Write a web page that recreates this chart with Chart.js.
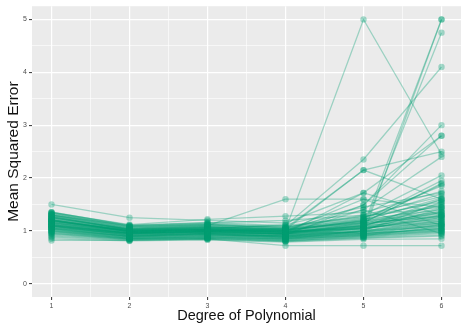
<!DOCTYPE html>
<html>
<head>
<meta charset="utf-8">
<script src="https://cdn.jsdelivr.net/npm/chart.js@4/dist/chart.umd.min.js"></script>
<style>
html,body{margin:0;padding:0;background:#fff;overflow:hidden;width:461px;height:323px;}
canvas{display:block;}
</style>
</head>
<body>
<canvas id="c" width="465" height="323"></canvas>
<script>
// Degree of polynomial (x categories)
const degrees = [1, 2, 3, 4, 5, 6];
const xTicks = [1, 2, 3, 4, 5, 6];
const yTicks = [0, 1, 2, 3, 4, 5];
const xTitle = "Degree of Polynomial";
const yTitle = "Mean Squared Error";

// Mean squared error per run, one array per line (values at degrees 1..6)
const outlierRuns = [
  [1.15, 0.98, 1.00, 1.02, 5.00, 2.45],
  [1.05, 0.95, 0.97, 0.95, 1.10, 5.00],
  [1.20, 1.00, 1.02, 1.00, 0.95, 5.00],
  [1.10, 0.92, 0.95, 0.90, 1.05, 4.75],
  [1.25, 1.02, 1.05, 1.10, 2.35, 4.10],
  [1.30, 1.05, 1.10, 1.60, 1.60, 1.45],
  [1.50, 1.25, 1.20, 1.15, 1.72, 2.80],
  [1.18, 1.00, 1.02, 1.05, 2.15, 2.50],
  [1.10, 0.95, 1.00, 1.00, 1.49, 3.00],
  [1.00, 0.88, 0.90, 0.92, 1.49, 2.80],
  [0.82, 0.82, 0.85, 0.72, 0.72, 0.72],
  [1.22, 0.98, 1.00, 1.05, 1.40, 2.40],
  [1.30, 1.10, 1.15, 1.20, 1.30, 2.05],
  [1.12, 0.96, 0.98, 1.00, 1.20, 1.95],
  [1.05, 0.90, 0.95, 0.95, 1.15, 1.90],
  [1.35, 1.12, 1.22, 1.28, 1.35, 1.75],
  [0.95, 0.85, 0.88, 0.85, 1.00, 1.55],
  [1.21, 1.02, 1.04, 1.02, 2.15, 1.60],
  [1.12, 0.95, 0.98, 0.96, 1.72, 1.30],
  [1.20, 1.00, 1.02, 1.00, 1.60, 1.10],
  [1.10, 0.96, 0.97, 0.95, 1.40, 0.95]
];
const typicalRuns = [
  [1.28, 1.02, 1.05, 0.98, 1.05, 1.25],
  [1.10, 0.95, 0.98, 0.93, 0.98, 1.10],
  [0.98, 0.86, 0.88, 0.84, 0.92, 1.02],
  [1.20, 0.99, 1.03, 0.97, 1.12, 1.35],
  [1.33, 1.08, 1.12, 1.04, 1.18, 1.48],
  [1.04, 0.90, 0.94, 0.88, 0.95, 1.05],
  [1.15, 0.97, 1.01, 0.95, 1.08, 1.60],
  [0.92, 0.84, 0.86, 0.82, 0.88, 0.95],
  [1.25, 1.04, 1.08, 1.02, 1.22, 1.40],
  [1.08, 0.93, 0.96, 0.91, 1.00, 1.18],
  [1.18, 1.00, 1.02, 0.96, 1.10, 1.22],
  [1.36, 1.10, 1.14, 1.08, 1.25, 1.70],
  [1.02, 0.89, 0.92, 0.87, 0.94, 1.12],
  [1.12, 0.96, 0.99, 1.00, 1.03, 1.30],
  [0.96, 0.85, 0.87, 0.83, 0.90, 1.00],
  [1.22, 1.01, 1.04, 0.99, 1.14, 1.52],
  [1.30, 1.06, 1.10, 1.03, 1.16, 1.28],
  [1.06, 0.91, 0.94, 0.90, 0.97, 1.08],
  [1.16, 0.98, 1.00, 0.94, 1.06, 1.15],
  [0.88, 0.82, 0.84, 0.80, 0.86, 0.90],
  [1.27, 1.03, 1.07, 1.01, 1.20, 1.62],
  [1.09, 0.94, 0.97, 0.92, 1.01, 1.20],
  [1.19, 0.99, 1.02, 0.98, 1.09, 1.38],
  [1.34, 1.09, 1.13, 1.06, 1.28, 1.45],
  [1.00, 0.87, 0.90, 0.86, 0.93, 1.05],
  [1.13, 0.96, 0.99, 0.93, 1.04, 1.25],
  [1.24, 1.02, 1.06, 1.00, 1.18, 1.32],
  [0.94, 0.84, 0.86, 0.81, 0.89, 0.97],
  [1.07, 0.92, 0.95, 0.89, 0.99, 1.12],
  [1.21, 1.00, 1.03, 0.97, 1.11, 1.44],
  [1.31, 1.07, 1.11, 1.05, 1.22, 1.58],
  [1.03, 0.89, 0.92, 0.88, 0.96, 1.02],
  [1.14, 0.97, 1.00, 0.95, 1.06, 1.35],
  [1.26, 1.03, 1.06, 1.02, 1.15, 1.26],
  [0.99, 0.86, 0.89, 0.85, 0.91, 1.08],
  [1.17, 0.98, 1.01, 0.96, 1.07, 1.18],
  [1.11, 0.95, 0.98, 0.94, 1.02, 1.42],
  [1.29, 1.05, 1.09, 1.04, 1.24, 1.85],
  [1.05, 0.90, 0.93, 0.89, 0.98, 1.10],
  [1.23, 1.01, 1.05, 0.99, 1.13, 1.30],
  [0.90, 0.83, 0.85, 0.81, 0.87, 0.92],
  [1.32, 1.08, 1.12, 1.07, 1.30, 1.65],
  [1.09, 0.93, 0.96, 0.91, 1.00, 1.15],
  [1.20, 0.99, 1.03, 0.98, 1.10, 1.50],
  [1.01, 0.88, 0.91, 0.86, 0.93, 1.00],
  [1.14, 0.96, 0.99, 0.94, 1.05, 1.22],
  [1.27, 1.04, 1.08, 1.02, 1.19, 1.36],
  [0.97, 0.86, 0.88, 0.84, 0.91, 0.98],
  [1.16, 0.98, 1.01, 0.97, 1.08, 1.28],
  [1.35, 1.11, 1.16, 1.10, 1.27, 1.55],
  [1.08, 0.92, 0.95, 0.90, 0.99, 1.14],
  [1.19, 1.00, 1.04, 1.12, 1.45, 1.72],
  [1.03, 0.90, 0.93, 0.88, 0.95, 1.04],
  [1.25, 1.03, 1.07, 1.01, 1.16, 1.88],
  [0.85, 0.81, 0.83, 0.79, 0.84, 0.85]
];

const allRuns = outlierRuns.concat(typicalRuns);
const lineColor = 'rgba(0,158,115,0.34)';

const datasets = allRuns.map(run => ({
  data: degrees.map((d, i) => ({x: d, y: run[i]})),
  borderColor: lineColor,
  backgroundColor: lineColor,
  borderWidth: 1.3,
  pointRadius: 3.2,
  pointBorderWidth: 0,
  pointBackgroundColor: lineColor,
  tension: 0
}));

const panelBg = {
  id: 'panelBg',
  beforeDraw(chart) {
    const {ctx, chartArea: a} = chart;
    ctx.save();
    ctx.fillStyle = '#EBEBEB';
    ctx.fillRect(a.left, a.top, a.right - a.left, a.bottom - a.top);
    ctx.restore();
  }
};

const isMajor = v => Math.abs(v - Math.round(v)) < 1e-9;
const FONT = 'Liberation Sans, Arial, sans-serif';

new Chart(document.getElementById('c'), {
  type: 'line',
  data: {datasets},
  plugins: [panelBg],
  options: {
    responsive: false,
    animation: false,
    devicePixelRatio: 1,
    layout: {padding: {top: 5, right: 0, left: 0, bottom: 0}},
    plugins: {legend: {display: false}, tooltip: {enabled: false}, title: {display: false}},
    scales: {
      x: {
        type: 'linear',
        min: 0.75,
        max: 6.25,
        afterBuildTicks: s => {
          const t = [];
          xTicks.forEach(v => { t.push({value: v}); if (v + 0.5 < 6.25) t.push({value: v + 0.5}); });
          s.ticks = t.sort((a, b) => a.value - b.value);
        },
        afterFit: s => { s.height = 26; },
        border: {display: false},
        grid: {
          color: '#FFFFFF',
          lineWidth: c => isMajor(c.tick.value) ? 1.2 : 0.6,
          drawTicks: true,
          tickLength: 3,
          tickColor: c => isMajor(c.tick.value) ? '#333333' : 'rgba(0,0,0,0)',
          tickWidth: 1
        },
        ticks: {
          autoSkip: false,
          maxRotation: 0,
          padding: 2,
          color: '#4D4D4D',
          font: {family: FONT, size: 7},
          callback: v => isMajor(v) ? String(v) : ''
        },
        title: {
          display: true,
          text: xTitle,
          color: '#111',
          font: {family: FONT, size: 14.5, lineHeight: 1.0},
          padding: {top: 0, bottom: 0}
        }
      },
      y: {
        type: 'linear',
        min: -0.25,
        max: 5.25,
        afterBuildTicks: s => {
          const t = [];
          yTicks.forEach(v => { t.push({value: v}); if (v + 0.5 < 5.25) t.push({value: v + 0.5}); });
          s.ticks = t.sort((a, b) => a.value - b.value);
        },
        afterFit: s => { s.width = 32; },
        border: {display: false},
        grid: {
          color: '#FFFFFF',
          lineWidth: c => isMajor(c.tick.value) ? 1.2 : 0.6,
          drawTicks: true,
          tickLength: 3,
          tickColor: c => isMajor(c.tick.value) ? '#333333' : 'rgba(0,0,0,0)',
          tickWidth: 1
        },
        ticks: {
          autoSkip: false,
          padding: 2,
          color: '#4D4D4D',
          font: {family: FONT, size: 7},
          callback: v => isMajor(v) ? String(v) : ''
        },
        title: {
          display: true,
          text: yTitle,
          color: '#111',
          font: {family: FONT, size: 15.5, lineHeight: 1.2},
          padding: {top: 4, bottom: 0}
        }
      }
    }
  }
});
</script>
</body>
</html>
